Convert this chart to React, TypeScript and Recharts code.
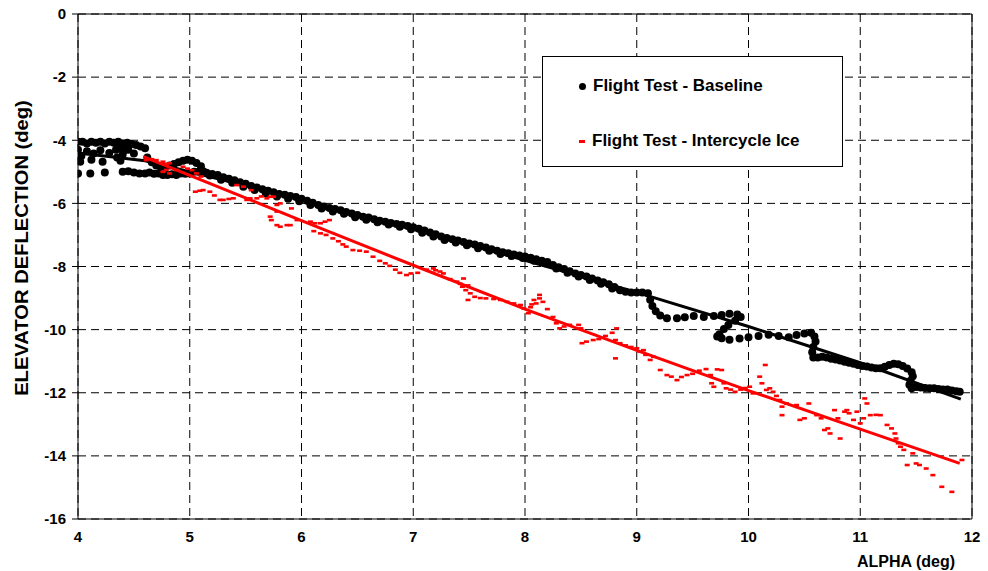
import { ScatterChart, Scatter, XAxis, YAxis, CartesianGrid, ReferenceLine, Label } from 'recharts';

const alphaTicks = [4, 5, 6, 7, 8, 9, 10, 11, 12];
const deflTicks = [0, -2, -4, -6, -8, -10, -12, -14, -16];

// baseline flight test points: [alpha, elevator deflection]
const baselinePoints: [number, number][] = [
  // low-alpha cluster
  [4.0, -4.05], [4.04, -4.05], [4.08, -4.1], [4.12, -4.05], [4.16, -4.08], [4.2, -4.05], [4.24, -4.1],
  [4.28, -4.05], [4.32, -4.08], [4.36, -4.05], [4.4, -4.1], [4.44, -4.08], [4.48, -4.12], [4.52, -4.15],
  [4.56, -4.2], [4.6, -4.25],
  [4.0, -4.3], [4.03, -4.5], [4.08, -4.35], [4.14, -4.42], [4.2, -4.32], [4.28, -4.4], [4.34, -4.3],
  [4.4, -4.45], [4.45, -4.3], [4.5, -4.42], [4.36, -4.25], [4.42, -4.3],
  [4.02, -4.68], [4.12, -4.62], [4.22, -4.68], [4.38, -4.65], [4.35, -4.55],
  [4.0, -5.05], [4.11, -5.05], [4.24, -5.02], [4.4, -5.0], [4.45, -4.98], [4.5, -5.02], [4.55, -5.05],
  // transition around alpha 5
  [4.62, -4.55], [4.66, -4.7], [4.7, -4.8], [4.74, -4.85], [4.78, -4.85], [4.82, -4.8], [4.86, -4.75],
  [4.9, -4.7], [4.94, -4.65], [4.98, -4.62], [5.02, -4.65], [5.06, -4.72], [5.1, -4.82],
  [4.6, -5.05], [4.64, -5.02], [4.68, -5.06], [4.72, -5.05], [4.76, -5.1], [4.8, -5.1], [4.84, -5.08],
  [4.88, -5.1], [4.92, -5.05], [4.96, -5.06], [5.0, -5.05], [5.04, -5.0], [5.08, -5.0], [5.12, -4.98],
  // main band
  [5.15, -5.03], [5.2, -5.07], [5.25, -5.1], [5.3, -5.17], [5.35, -5.22], [5.4, -5.27], [5.45, -5.33],
  [5.5, -5.38], [5.55, -5.45], [5.6, -5.5], [5.65, -5.55], [5.7, -5.6], [5.75, -5.65], [5.8, -5.7],
  [5.85, -5.73], [5.9, -5.77], [5.95, -5.8], [6.0, -5.85], [6.05, -5.92], [6.1, -5.98], [6.15, -6.05],
  [6.2, -6.1], [6.25, -6.15], [6.3, -6.18], [6.35, -6.22], [6.4, -6.27], [6.45, -6.32], [6.5, -6.37],
  [6.55, -6.42], [6.6, -6.45], [6.65, -6.5], [6.7, -6.55], [6.75, -6.58], [6.8, -6.62], [6.85, -6.65],
  [6.9, -6.68], [6.95, -6.72], [7.0, -6.76], [7.05, -6.8], [7.1, -6.86], [7.15, -6.92], [7.2, -6.98],
  [7.25, -7.05], [7.3, -7.1], [7.35, -7.14], [7.4, -7.18], [7.45, -7.22], [7.5, -7.27], [7.55, -7.3],
  [7.6, -7.35], [7.65, -7.4], [7.7, -7.45], [7.75, -7.5], [7.8, -7.55], [7.85, -7.58], [7.9, -7.62],
  [7.95, -7.65], [8.0, -7.68], [8.05, -7.72], [8.1, -7.77], [8.15, -7.82], [8.2, -7.86], [8.25, -7.95],
  [8.3, -8.02], [8.35, -8.08], [8.4, -8.15], [8.45, -8.22], [8.5, -8.27], [8.55, -8.32], [8.6, -8.38],
  [8.65, -8.44], [8.7, -8.5], [8.75, -8.56], [8.8, -8.65], [8.85, -8.75], [8.9, -8.8], [8.95, -8.82],
  [9.0, -8.82], [9.05, -8.82], [9.1, -8.85],
  // second pass along the band (data slightly below the first)
  [5.18, -5.12], [5.28, -5.25], [5.38, -5.35], [5.48, -5.47], [5.58, -5.58], [5.68, -5.68], [5.78, -5.78],
  [5.88, -5.85], [5.98, -5.93], [6.08, -6.05], [6.18, -6.16], [6.28, -6.26], [6.38, -6.33], [6.48, -6.44],
  [6.58, -6.52], [6.68, -6.6], [6.78, -6.67], [6.88, -6.74], [6.98, -6.82], [7.08, -6.93], [7.18, -7.05],
  [7.28, -7.16], [7.38, -7.24], [7.48, -7.33], [7.58, -7.42], [7.68, -7.5], [7.78, -7.6], [7.88, -7.67],
  [7.98, -7.73], [8.08, -7.82], [8.18, -7.9], [8.28, -8.06], [8.38, -8.2], [8.48, -8.32], [8.58, -8.43],
  [8.68, -8.55], [8.78, -8.7],
  // drop and sparse shelf near alpha 9.5
  [9.12, -9.05], [9.14, -9.25], [9.17, -9.42], [9.21, -9.55], [9.27, -9.64], [9.36, -9.64],
  [9.43, -9.61], [9.51, -9.57], [9.6, -9.6], [9.69, -9.57], [9.76, -9.54], [9.83, -9.5], [9.9, -9.52],
  [9.93, -9.6], [9.88, -9.72], [9.82, -9.85], [9.78, -9.98], [9.74, -10.15], [9.72, -10.22],
  [9.76, -10.27], [9.83, -10.32], [9.92, -10.28], [10.0, -10.24], [10.09, -10.2], [10.18, -10.16],
  [10.27, -10.2], [10.36, -10.24], [10.43, -10.17], [10.5, -10.12], [10.56, -10.1], [10.59, -10.22],
  [10.6, -10.38], [10.58, -10.55], [10.57, -10.72], [10.58, -10.88], [10.62, -10.88],
  // upper alpha band
  [10.66, -10.86], [10.7, -10.88], [10.74, -10.92], [10.78, -10.95], [10.82, -10.98], [10.86, -11.02],
  [10.9, -11.05], [10.94, -11.08], [10.98, -11.12], [11.02, -11.15], [11.06, -11.17], [11.1, -11.2],
  [11.14, -11.22], [11.18, -11.22], [11.22, -11.18], [11.26, -11.12], [11.3, -11.08], [11.34, -11.1],
  [11.38, -11.15], [11.42, -11.23], [11.46, -11.35], [11.47, -11.48], [11.45, -11.62], [11.44, -11.75],
  [11.46, -11.86], [11.5, -11.82], [11.54, -11.83], [11.58, -11.85], [11.62, -11.86], [11.66, -11.86],
  [11.7, -11.88], [11.74, -11.9], [11.78, -11.9], [11.82, -11.93], [11.86, -11.95], [11.89, -11.97],
];

// intercycle ice flight test points
const icePoints: [number, number][] = [
  [4.61, -4.63], [4.66, -4.6], [4.7, -4.63], [4.76, -4.68], [4.79, -4.75], [4.82, -4.73], [4.76, -5.0],
  [4.79, -4.94], [4.82, -5.05], [4.88, -4.94], [4.94, -4.84], [4.98, -4.9], [5.02, -4.95], [5.06, -5.05],
  [5.1, -5.15],
  [5.05, -5.63], [5.09, -5.6], [5.12, -5.58], [5.18, -5.63], [5.22, -5.75], [5.27, -5.89], [5.3, -5.89],
  [5.35, -5.86], [5.39, -5.84], [5.42, -5.42], [5.48, -5.47], [5.51, -5.89], [5.55, -5.58], [5.54, -5.84],
  [5.6, -5.84], [5.64, -5.78], [5.69, -5.84], [5.72, -5.79], [5.75, -5.79], [5.78, -6.05], [5.81, -6.0],
  [5.78, -6.26], [5.72, -6.42], [5.73, -6.53], [5.78, -6.69], [5.81, -6.74], [5.87, -6.69], [5.9, -6.69],
  [5.91, -6.16], [5.96, -6.53],
  [6.08, -6.58], [6.12, -6.63], [6.17, -6.63], [6.21, -6.58], [6.25, -6.53], [6.11, -6.88], [6.17, -6.95],
  [6.22, -7.0], [6.28, -7.11], [6.33, -7.2], [6.37, -7.3], [6.4, -7.37], [6.46, -7.48], [6.52, -7.5],
  [6.58, -7.53], [6.64, -7.69], [6.7, -7.82], [6.75, -7.9], [6.79, -7.98], [6.84, -8.1], [6.88, -8.2],
  [6.94, -8.27], [6.98, -8.22], [7.04, -8.2],
  [7.12, -8.1], [7.18, -8.06], [7.2, -8.12], [7.24, -8.16], [7.27, -8.22], [7.33, -8.4], [7.39, -8.48],
  [7.42, -8.55], [7.45, -8.38], [7.44, -8.64], [7.47, -8.75], [7.49, -8.6], [7.51, -8.85], [7.49, -9.06],
  [7.55, -8.96], [7.6, -9.0], [7.65, -9.01], [7.72, -9.03], [7.78, -9.06], [7.84, -9.12], [7.9, -9.17],
  [7.96, -9.22], [7.99, -9.33], [8.03, -9.48], [8.06, -9.2], [8.08, -9.06], [8.1, -9.17], [8.13, -9.01],
  [8.13, -8.9], [8.16, -9.12], [8.05, -9.29],
  [8.2, -9.35], [8.25, -9.6], [8.28, -9.8], [8.31, -9.96], [8.35, -9.9], [8.4, -9.85], [8.48, -9.85],
  [8.5, -9.96], [8.51, -10.43], [8.55, -10.38], [8.61, -10.33], [8.66, -10.3], [8.72, -10.2],
  [8.78, -10.1], [8.82, -9.96], [8.81, -10.33], [8.85, -10.43], [8.81, -10.91], [8.9, -10.5],
  [8.95, -10.55], [9.0, -10.59], [9.06, -10.65],
  [9.03, -10.7], [9.08, -10.8], [9.12, -10.96], [9.15, -10.86], [9.21, -11.28], [9.27, -11.44],
  [9.31, -11.49], [9.36, -11.6], [9.4, -11.5], [9.45, -11.44], [9.5, -11.4], [9.56, -11.3], [9.62, -11.25],
  [9.66, -11.44], [9.67, -11.7], [9.69, -11.81], [9.72, -11.26], [9.76, -11.28], [9.78, -11.7],
  [9.8, -11.86], [9.84, -11.9], [9.88, -11.97], [9.93, -11.9], [9.97, -11.85], [10.01, -11.81],
  [10.04, -12.02], [10.1, -11.49], [10.12, -11.7], [10.15, -11.12], [10.16, -11.91], [10.19, -11.86],
  [10.22, -11.97], [10.25, -12.1], [10.28, -12.23], [10.3, -12.44], [10.3, -12.71], [10.34, -12.34],
  [10.43, -12.39], [10.46, -12.86], [10.5, -12.81], [10.54, -12.34], [10.61, -12.71], [10.65, -12.81],
  [10.68, -13.18], [10.71, -13.13], [10.73, -13.29], [10.77, -12.55], [10.8, -12.81], [10.82, -13.45],
  [10.86, -12.6], [10.88, -12.55], [10.9, -12.65], [10.94, -12.86], [10.97, -12.6], [11.0, -12.97],
  [11.03, -12.81], [11.04, -12.18], [11.06, -12.34], [11.09, -12.71], [11.14, -12.7], [11.18, -12.71],
  [11.24, -13.02], [11.28, -13.13], [11.31, -13.29], [11.32, -13.45], [11.34, -13.6], [11.36, -13.71],
  [11.39, -13.81], [11.42, -14.29], [11.47, -13.92], [11.5, -14.24], [11.53, -14.29], [11.59, -14.4],
  [11.65, -14.61], [11.73, -14.98], [11.82, -15.14], [11.91, -14.13],
];

// fitted trend curves
const baselineTrend: [number, number][] = [
  [4.0, -4.4], [4.6, -4.65], [5, -5.0], [6, -5.88], [7, -6.82], [8, -7.8], [9, -8.82], [10, -9.9],
  [11, -11.05], [11.9, -12.2],
];
const iceTrend: [number, number][] = [
  [4.585, -4.52], [5, -5.11], [6, -6.55], [7, -7.96], [8, -9.35], [9, -10.66], [10, -11.93],
  [11, -13.15], [11.89, -14.24],
];

const legendItems = [
  { label: 'Flight Test - Baseline', color: '#000000', marker: 'dot' },
  { label: 'Flight Test - Intercycle Ice', color: '#ff0000', marker: 'dash' },
];

const toXY = (pts: [number, number][]) => pts.map(([x, y]) => ({ x, y }));

const FONT = '"Liberation Sans", Arial, sans-serif';
const tickStyle = { fontFamily: FONT, fontWeight: 700, fontSize: 15, fill: '#000' };

const Dot = (p: any) => <circle cx={p.cx} cy={p.cy} r={4} fill="#000" />;
const Dash = (p: any) => <rect x={p.cx - 2.5} y={p.cy - 1.3} width={5} height={2.6} fill="#ff0000" />;
const NoMark = () => <g />;

const XTitle = (props: any) => {
  const vb = props.viewBox;
  return (
    <text x={vb.x + vb.width - 17} y={567} textAnchor="end" style={{ ...tickStyle, fontSize: 16 }}>
      ALPHA (deg)
    </text>
  );
};

const YTitle = () => (
  <text
    transform="translate(22, 248) rotate(-90) scale(1.12, 1)"
    textAnchor="middle"
    dominantBaseline="central"
    style={{ ...tickStyle, fontSize: 18 }}
  >
    ELEVATOR DEFLECTION (deg)
  </text>
);

export default function App() {
  return (
    <div style={{ position: 'absolute', left: 0, top: 0, width: 988, height: 571, background: '#fff' }}>
      <ScatterChart width={988} height={571} margin={{ top: 14, right: 16, bottom: 0, left: 8 }}>
        <CartesianGrid stroke="#000" strokeDasharray="8 5" />
        <XAxis
          type="number"
          dataKey="x"
          domain={[4, 12]}
          ticks={alphaTicks}
          height={52}
          tick={tickStyle}
          tickLine={false}
          tickSize={6}
          tickMargin={6}
          axisLine={{ stroke: '#000' }}
          allowDataOverflow
        >
          <Label content={XTitle} />
        </XAxis>
        <YAxis
          type="number"
          dataKey="y"
          domain={[-16, 0]}
          ticks={deflTicks}
          width={70}
          tick={tickStyle}
          tickSize={6}
          tickMargin={6}
          tickLine={{ stroke: '#000' }}
          axisLine={{ stroke: '#000' }}
          allowDataOverflow
        >
          <Label content={YTitle} />
        </YAxis>
        <ReferenceLine y={0} stroke="#000" />
        <ReferenceLine x={12} stroke="#000" />
        <Scatter data={toXY(baselinePoints)} shape={Dot} isAnimationActive={false} />
        <Scatter
          data={toXY(baselineTrend)}
          shape={NoMark}
          line={{ stroke: '#000', strokeWidth: 3 }}
          isAnimationActive={false}
        />
        <Scatter data={toXY(icePoints)} shape={Dash} isAnimationActive={false} />
        <Scatter
          data={toXY(iceTrend)}
          shape={NoMark}
          line={{ stroke: '#ff0000', strokeWidth: 3 }}
          isAnimationActive={false}
        />
      </ScatterChart>
      <div
        style={{
          position: 'absolute',
          left: 542,
          top: 56,
          width: 301,
          height: 111,
          boxSizing: 'border-box',
          border: '1px solid #000',
          background: '#fff',
          fontFamily: FONT,
          fontWeight: 700,
          fontSize: 17,
        }}
      >
        {legendItems.map((item, i) => (
          <div
            key={item.label}
            style={{ position: 'absolute', left: 36, top: 19 + i * 55, height: 20, display: 'flex', alignItems: 'center' }}
          >
            {item.marker === 'dot' ? (
              <span style={{ width: 7, height: 7, borderRadius: '50%', background: item.color, marginRight: 7 }} />
            ) : (
              <span style={{ width: 6, height: 3, background: item.color, marginRight: 7 }} />
            )}
            <span>{item.label}</span>
          </div>
        ))}
      </div>
    </div>
  );
}
